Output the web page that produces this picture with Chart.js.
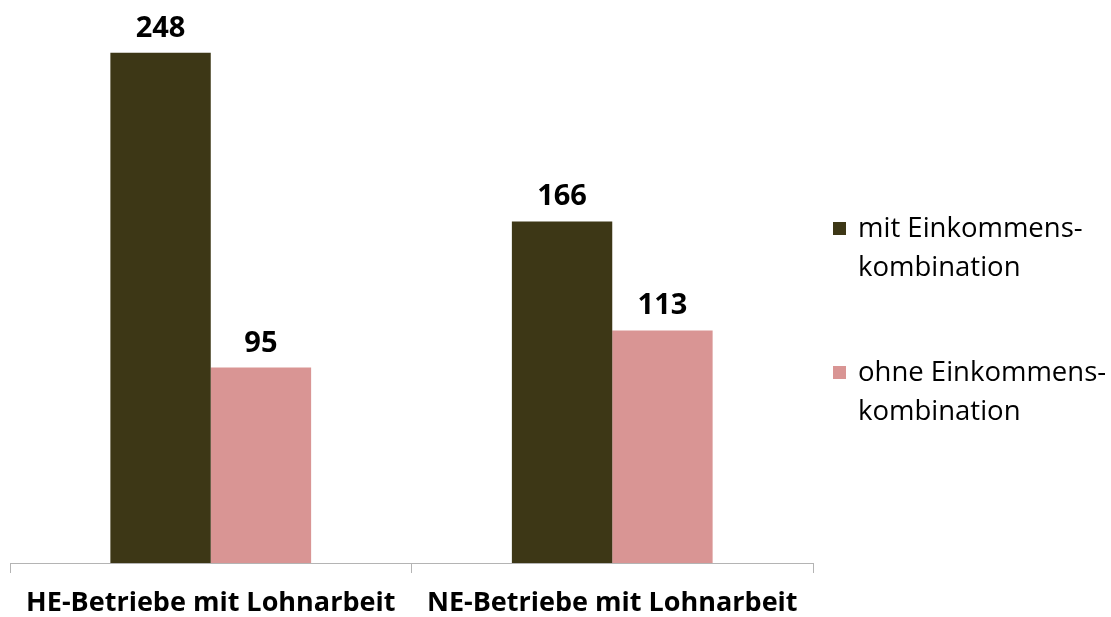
<!DOCTYPE html>
<html>
<head>
<meta charset="utf-8">
<script src="https://cdn.jsdelivr.net/npm/chart.js@4/dist/chart.umd.min.js"></script>
<style>
  html, body { margin: 0; padding: 0; background: #fff; }
  #wrap { width: 1111px; height: 617px; position: relative; }
</style>
</head>
<body>
<div id="wrap"><canvas id="chart"></canvas></div>
<script>
// Daten
const categories = ['HE-Betriebe mit Lohnarbeit', 'NE-Betriebe mit Lohnarbeit'];
const seriesNames = [['mit Einkommens-', 'kombination'], ['ohne Einkommens-', 'kombination']];
const mitValues = [248, 166];
const ohneValues = [95, 113];
const seriesColors = ['#3d3716', '#d99594'];

const FONT = '"Open Sans", Lato, sans-serif';

// Werte über den Balken
const valueLabels = {
    id: 'valueLabels',
    afterDatasetsDraw(chart) {
        const ctx = chart.ctx;
        ctx.save();
        ctx.font = 'bold 29px ' + FONT;
        ctx.fillStyle = '#000';
        ctx.textAlign = 'center';
        ctx.textBaseline = 'alphabetic';
        chart.data.datasets.forEach((ds, i) => {
            chart.getDatasetMeta(i).data.forEach((bar, j) => {
                ctx.fillText(ds.data[j], bar.x, bar.y - 16);
            });
        });
        ctx.restore();
    }
};

// Legende rechts, zweizeilig
const sideLegend = {
    id: 'sideLegend',
    afterDraw(chart) {
        const ctx = chart.ctx;
        const x = chart.chartArea.right + 20;
        const tops = [229, 373];
        ctx.save();
        ctx.font = '27.5px ' + FONT;
        ctx.textBaseline = 'middle';
        chart.data.datasets.forEach((ds, i) => {
            const y = tops[i];
            ctx.fillStyle = ds.backgroundColor;
            ctx.fillRect(x, y - 7, 13, 13);
            ctx.fillStyle = '#000';
            ds.label.forEach((line, k) => {
                ctx.fillText(line, x + 25, y + k * 39);
            });
        });
        ctx.restore();
    }
};

new Chart(document.getElementById('chart').getContext('2d'), {
    type: 'bar',
    data: {
        labels: categories,
        datasets: [
            { label: seriesNames[0], data: mitValues, backgroundColor: seriesColors[0] },
            { label: seriesNames[1], data: ohneValues, backgroundColor: seriesColors[1] }
        ]
    },
    options: {
        responsive: true, maintainAspectRatio: false, animation: false,
        layout: { padding: { left: 10, right: 298, top: 28, bottom: 0 } },
        datasets: { bar: { categoryPercentage: 0.5, barPercentage: 1 } },
        scales: {
            x: {
                grid: { drawOnChartArea: false, drawTicks: true, tickLength: 10, color: '#b4b4b4' },
                border: { display: true, color: '#b4b4b4' },
                ticks: { color: '#000', font: { family: FONT, size: 27, weight: 'bold' }, padding: 14, maxRotation: 0 },
                afterFit(scale) { scale.height = 54; }
            },
            y: { display: false, min: 0, max: 260 }
        },
        plugins: { legend: { display: false }, tooltip: { enabled: false } }
    },
    plugins: [valueLabels, sideLegend]
});
</script>
</body>
</html>
